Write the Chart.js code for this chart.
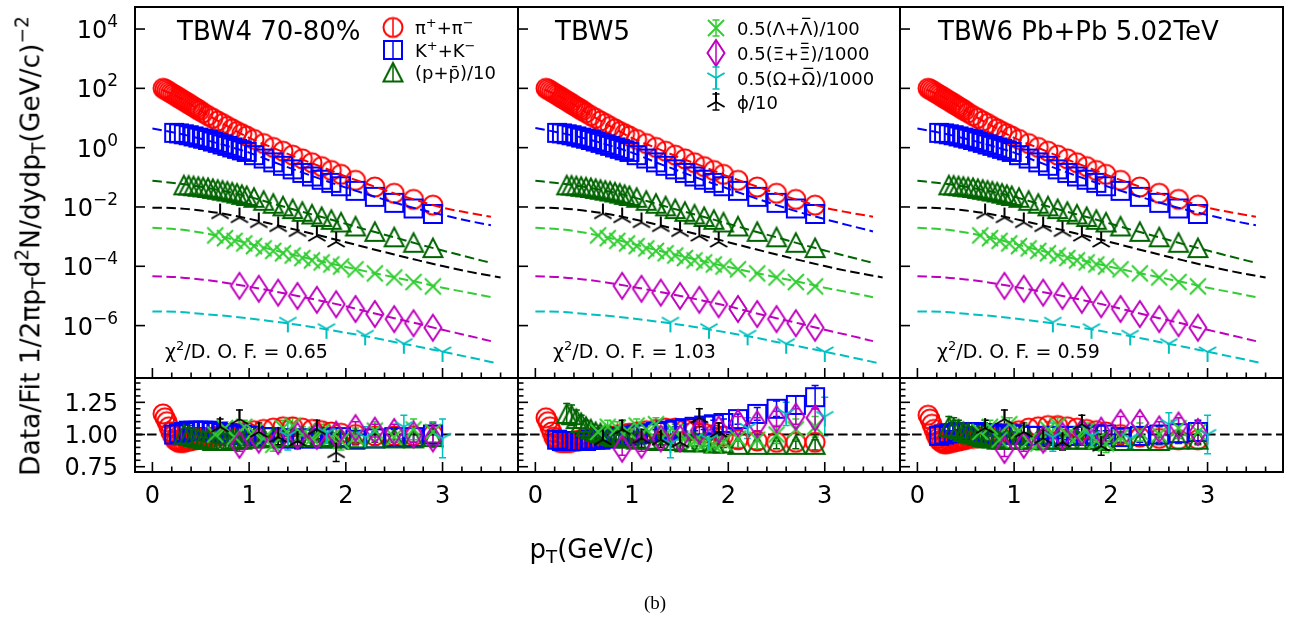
<!DOCTYPE html>
<html>
<head>
<meta charset="utf-8">
<script src="https://cdn.jsdelivr.net/npm/chart.js@4.4.0/dist/chart.umd.min.js"></script>
<style>
  html, body { margin: 0; padding: 0; background: #fff; }
  #wrap { position: relative; width: 1301px; height: 618px; overflow: hidden; font-family: 'DejaVu Sans', sans-serif; color: #000; }
  #wrap canvas { position: absolute; left: 0; top: 0; }
  .anchor { position: absolute; width: 0; height: 0; }
  .lab { position: absolute; white-space: nowrap; line-height: 1; transform: translate(-50%, -50%); }
  .rot { transform: translate(-50%, -50%) rotate(-90deg); }
  .sb { font-size: 0.7em; vertical-align: -0.3em; }
  .sp { font-size: 0.7em; vertical-align: 0.6em; }
</style>
</head>
<body>
<div id="wrap">
  <canvas id="t0" width="1301" height="618"></canvas>
  <canvas id="t1" width="1301" height="618"></canvas>
  <canvas id="t2" width="1301" height="618"></canvas>
  <canvas id="r0" width="1301" height="618"></canvas>
  <canvas id="r1" width="1301" height="618"></canvas>
  <canvas id="r2" width="1301" height="618"></canvas>
  <div class="anchor" style="left:31px; top:246px;">
    <div class="lab rot" style="font-size:26.5px;">Data/Fit 1/2πp<span class="sb">T</span>d<span class="sp">2</span>N/dydp<span class="sb">T</span>(GeV/c)<span class="sp">−2</span></div>
  </div>
  <div class="anchor" style="left:592px; top:551px;">
    <div class="lab" style="font-size:26px;">p<span class="sb">T</span>(GeV/c)</div>
  </div>
  <div class="anchor" style="left:655px; top:602px;">
    <div class="lab" style="font-size:19px; font-family:'Liberation Serif', serif;">(b)</div>
  </div>
</div>
<script>
// ─── Spectra (same data in the three panels) ────────────────────────────────
const piPt = [0.11,0.13,0.15,0.17,0.19,0.21,0.23,0.25,0.27,0.29,0.31,0.33,0.35,0.37,0.39,0.41,0.43,0.45,0.47,0.49,
              0.525,0.575,0.625,0.675,0.725,0.775,0.825,0.875,0.925,0.975,
              1.05,1.15,1.25,1.35,1.45,1.55,1.65,1.75,1.85,1.95, 2.1,2.3,2.5,2.7,2.9];
const piY  = [100,93.3,85.1,77.6,70.8,64.6,58.9,53.7,49.0,44.7,40.7,37.2,33.9,30.9,28.2,25.7,23.4,21.4,19.5,17.8,
              15.1,12.0,9.8,7.9,6.5,5.2,4.3,3.5,2.95,2.45,
              1.9,1.38,1.02,0.76,0.56,0.42,0.31,0.23,0.17,0.126, 0.079,0.047,0.029,0.018,0.0115];

const kPt = [0.225,0.275,0.325,0.375,0.425,0.475,0.525,0.575,0.625,0.675,0.725,0.775,0.825,0.875,0.925,0.975,
             1.05,1.15,1.25,1.35,1.45,1.55,1.65,1.75,1.85,1.95, 2.1,2.3,2.5,2.7,2.9];
const kY  = [3.16,3.02,2.82,2.63,2.40,2.19,2.0,1.82,1.62,1.45,1.29,1.15,1.02,0.91,0.81,0.72,
             0.56,0.43,0.32,0.245,0.186,0.141,0.107,0.083,0.065,0.050, 0.035,0.022,0.0138,0.0089,0.0058];

const pPt = [0.325,0.375,0.425,0.475,0.525,0.575,0.625,0.675,0.725,0.775,0.825,0.875,0.925,0.975,
             1.05,1.15,1.25,1.35,1.45,1.55,1.65,1.75,1.85,1.95, 2.1,2.3,2.5,2.7,2.9];
const pY  = [0.0537,0.0525,0.050,0.0479,0.0457,0.0437,0.0407,0.038,0.0355,0.0331,0.0309,0.0282,0.0257,0.0234,
             0.0204,0.0162,0.0129,0.0105,0.0085,0.0069,0.0056,0.0046,0.0037,0.0030, 0.0022,0.00145,0.00095,0.00062,0.00041];

const lamPt = [0.65,0.75,0.85,0.95,1.05,1.15,1.25,1.35,1.45,1.55,1.65,1.75,1.85,1.95,2.1,2.3,2.5,2.7,2.9];
const lamY  = [1.10e-3,8.9e-4,7.2e-4,5.9e-4,4.8e-4,4.0e-4,3.3e-4,2.75e-4,2.3e-4,1.9e-4,1.58e-4,1.35e-4,1.15e-4,9.8e-5,
               7.9e-5,5.75e-5,4.2e-5,2.95e-5,2.1e-5];

const xiPt = [0.9,1.1,1.3,1.5,1.7,1.9,2.1,2.3,2.5,2.7,2.9];
const xiY  = [2.19e-5,1.74e-5,1.29e-5,1.0e-5,7.4e-6,5.25e-6,3.63e-6,2.45e-6,1.66e-6,1.2e-6,8.5e-7];

const omPt = [1.4,1.8,2.2,2.6,3.0];
const omY  = [1.29e-6,7.8e-7,4.7e-7,2.45e-7,1.29e-7];

const phiPt = [0.7,0.9,1.1,1.3,1.5,1.7,1.9];
const phiY  = [0.0060,0.0044,0.0030,0.0022,0.0015,0.00105,0.00066];

// ─── Fits (dashed) ──────────────────────────────────────────────────────────
const fitPt    = [0,0.25,0.5,0.75,1,1.25,1.5,1.75,2,2.25,2.5,2.75,3,3.25,3.5];
const piFitPt  = [0.1,0.25,0.5,0.75,1,1.25,1.5,1.75,2,2.25,2.5,2.75,3,3.25,3.5];
const phiFitPt = [0,0.25,0.5,0.75,1,1.25,1.5,1.75,2,2.25,2.5,2.75,3,3.25,3.6];
const omFitPt  = [0,0.25,0.5,0.75,1,1.25,1.5,1.75,2,2.25,2.5,2.75,3,3.25,3.55];
const piFit  = [89,55,17.4,5.9,2.14,0.98,0.457,0.224,0.107,0.055,0.0288,0.0162,0.0095,0.0065,0.0047];
const kFit   = [4.4,3.1,2.0,1.2,0.68,0.33,0.166,0.085,0.045,0.025,0.0141,0.0085,0.0054,0.0035,0.0024];
const kFitB  = [4.6,3.2,2.1,1.24,0.68,0.32,0.158,0.079,0.041,0.0214,0.0115,0.0065,0.0039,0.0024,0.0015];
const pFit   = [0.076,0.063,0.048,0.034,0.022,0.0129,0.0076,0.0046,0.0027,0.00158,0.00095,0.00056,0.00034,0.00021,0.00013];
const lamFit = [0.0020,0.00178,0.00138,0.00093,0.00058,0.000355,0.000224,0.000145,0.000095,0.000063,0.0000427,0.0000288,0.000019,0.0000132,0.0000091];
const xiFit  = [4.6e-5,4.3e-5,3.6e-5,2.8e-5,2.04e-5,1.45e-5,1.0e-5,6.8e-6,4.5e-6,2.8e-6,1.78e-6,1.15e-6,7.2e-7,4.7e-7,3.0e-7];
const phiFit = [0.0095,0.0091,0.0076,0.0058,0.0040,0.0026,0.00166,0.00105,0.00065,0.0004,0.00025,0.000158,0.000102,0.000068,0.000042];
const omFit  = [3.0e-6,2.9e-6,2.5e-6,2.14e-6,1.74e-6,1.38e-6,1.07e-6,7.9e-7,5.75e-7,4.1e-7,2.8e-7,1.95e-7,1.32e-7,8.9e-8,5.5e-8];

// ─── Data/Fit, one row per panel ────────────────────────────────────────────
const piR = [
  [1.16,1.13,1.10,1.06,1.02,0.99,0.96,0.95,0.94,0.94,0.94,0.94,0.95,0.95,0.95,0.96,0.96,0.96,0.97,0.97, 0.97,0.98,0.98,0.99,0.99,1.0,1.0,1.01,1.01,1.02, 1.03,1.04,1.05,1.06,1.06,1.05,1.04,1.03,1.02,1.01, 1.0,0.99,0.99,0.99,1.0],
  [1.13,1.10,1.06,1.02,0.98,0.96,0.95,0.94,0.94,0.94,0.94,0.94,0.94,0.94,0.95,0.95,0.95,0.95,0.96,0.96, 0.96,0.97,0.97,0.98,0.98,0.99,0.99,1.0,1.0,1.01, 1.02,1.03,1.04,1.05,1.05,1.04,1.03,1.01,1.0,0.99, 0.96,0.95,0.94,0.94,0.94],
  [1.15,1.12,1.08,1.04,1.0,0.97,0.95,0.94,0.93,0.93,0.93,0.94,0.94,0.94,0.95,0.95,0.95,0.96,0.96,0.96, 0.97,0.97,0.98,0.98,0.99,0.99,1.0,1.0,1.01,1.02, 1.03,1.05,1.06,1.07,1.07,1.06,1.05,1.04,1.03,1.02, 1.0,0.98,0.97,0.96,0.96],
];
const kR = [
  [1.0,1.01,1.02,1.03,1.03,1.03,1.03,1.03,1.02,1.02,1.01,1.01,1.0,1.0,1.0,0.99, 0.99,0.98,0.98,0.97,0.97,0.97,0.97,0.97,0.98,0.98, 0.96,0.97,0.98,0.98,1.0],
  [0.96,0.95,0.95,0.95,0.95,0.95,0.95,0.96,0.96,0.96,0.97,0.97,0.98,0.98,0.99,0.99, 1.0,1.01,1.02,1.03,1.04,1.05,1.06,1.07,1.08,1.09, 1.12,1.16,1.2,1.23,1.29],
  [0.99,1.0,1.01,1.01,1.02,1.02,1.02,1.02,1.02,1.01,1.01,1.01,1.0,1.0,1.0,1.0, 1.0,0.99,0.99,0.99,0.99,0.99,0.99,0.99,1.0,1.0, 0.98,0.99,1.0,1.01,1.02],
];
const pR = [
  [1.0,0.99,0.98,0.97,0.96,0.96,0.95,0.95,0.95,0.95,0.96,0.96,0.96,0.97, 0.97,0.97,0.98,0.98,0.98,0.98,0.98,0.98,0.97,0.97, 0.97,0.97,0.97,0.97,0.98],
  [1.16,1.15,1.12,1.09,1.06,1.04,1.02,1.01,1.0,0.99,0.98,0.98,0.97,0.97, 0.96,0.96,0.95,0.95,0.95,0.94,0.94,0.94,0.93,0.93, 0.92,0.92,0.92,0.92,0.92],
  [1.06,1.05,1.04,1.02,1.01,1.0,0.99,0.98,0.97,0.97,0.96,0.96,0.96,0.96, 0.96,0.96,0.96,0.96,0.96,0.96,0.96,0.96,0.96,0.95, 0.95,0.95,0.95,0.96,0.96],
];
const lamR = [
  [1.0,1.05,0.98,1.06,1.02,0.97,0.92,1.05,1.07,1.0,0.97,1.02,0.98,0.95,0.98,1.03,0.98,1.04,1.02],
  [1.02,1.06,1.05,1.03,1.07,1.04,1.08,1.0,1.02,0.97,0.95,0.93,0.92,0.94,0.97,0.96,1.0,1.04,1.06],
  [1.02,1.06,0.96,1.08,1.03,0.95,0.93,1.04,1.07,1.0,0.98,1.03,0.95,0.93,0.98,1.02,1.0,1.05,1.02],
];
const xiR = [
  [0.92,0.96,0.95,0.99,0.99,1.0,1.05,1.03,1.02,1.0,0.97],
  [0.89,0.92,0.97,0.97,1.03,1.04,1.09,1.08,1.12,1.14,1.13],
  [0.88,0.92,0.96,0.99,1.02,1.03,1.09,1.09,1.04,1.07,1.02],
];
const omR  = [[0.99,1.01,0.98,1.06,0.97], [0.93,0.96,1.05,1.16,1.14], [0.98,0.99,0.97,1.08,1.0]];
const phiR = [[1.06,1.12,1.02,0.98,0.95,1.04,0.86], [0.96,1.04,0.97,0.96,0.94,1.13,1.02], [1.05,1.12,1.02,0.97,0.94,1.08,0.91]];

const kErr   = [0.02,0.02,0.02,0.02,0.02,0.02,0.02,0.02,0.02,0.02,0.02,0.02,0.02,0.02,0.02,0.02,0.02,0.02,0.02,0.02,0.02,0.03,0.03,0.03,0.03,0.03,0.04,0.05,0.06,0.07,0.09];
const pErr   = [0.08,0.08,0.07,0.06,0.05,0.04,0.03,0.03,0.03,0.03,0.03,0.03,0.03,0.03,0.03,0.03,0.03,0.03,0.03,0.03,0.03,0.03,0.03,0.03,0.03,0.03,0.03,0.03,0.04];
const lamErr = [0.05,0.05,0.05,0.05,0.05,0.05,0.05,0.06,0.06,0.06,0.06,0.06,0.06,0.07,0.07,0.07,0.07,0.08,0.08];
const xiErr  = [0.05,0.05,0.05,0.05,0.05,0.05,0.05,0.05,0.06,0.06,0.07];
const omErr  = [0.11,0.08,0.08,0.09,0.15];
const phiErr = [0.06,0.07,0.07,0.06,0.06,0.07,0.07];
const refX = [-0.2, 3.8];
const refY = [1, 1];

// ─── Axes ───────────────────────────────────────────────────────────────────
const xMajorTicks = [0, 1, 2, 3];
const xMinorTicks = [0.2,0.4,0.6,0.8,1.2,1.4,1.6,1.8,2.2,2.4,2.6,2.8,3.2,3.4,3.6];
const yTopTicks   = [1e4, 1e2, 1, 1e-2, 1e-4, 1e-6];
const yTopExp     = ['4', '2', '0', '−2', '−4', '−6'];
const rMajorTicks = [0.75, 1.0, 1.25];
const rMajorLabels = ['0.75', '1.00', '1.25'];
const rMinorTicks = [0.8,0.85,0.9,0.95,1.05,1.1,1.15,1.2,1.3,1.35,1.4];

const titles  = ['TBW4 70-80%', 'TBW5', 'TBW6 Pb+Pb 5.02TeV'];
const chiVals = ['0.65', '1.03', '0.59'];

// panel geometry (page pixels)
const colL = [135, 518, 900], colR = [518, 900, 1283];
const TOP = 2, MID = 378, BOT = 472, W = 1301, H = 618;
const FONT = '"DejaVu Sans", sans-serif';
const TICK_FONT = 24;

const C = { pi: '#ff0000', k: '#0000ff', p: '#006400', lam: '#32cd32', xi: '#bf00bf', om: '#00bfbf', phi: '#000000' };

// ─── Marker glyphs ──────────────────────────────────────────────────────────
function marker(kind, color) {
    const c = document.createElement('canvas');
    const w = 28, h = kind === 'thinDiamond' ? 32 : 28;
    c.width = w; c.height = h;
    const g = c.getContext('2d');
    g.strokeStyle = color; g.lineWidth = 2;
    g.translate(w / 2, h / 2);
    g.beginPath();
    switch (kind) {
        case 'circle':      g.arc(0, 0, 9.5, 0, Math.PI * 2); break;
        case 'square':      g.rect(-9, -9, 18, 18); break;
        case 'triangle':    g.moveTo(0, -9.5); g.lineTo(9.5, 9); g.lineTo(-9.5, 9); g.closePath(); break;
        case 'x':           g.moveTo(-8, -8); g.lineTo(8, 8); g.moveTo(8, -8); g.lineTo(-8, 8); break;
        case 'thinDiamond': g.moveTo(0, -13); g.lineTo(8.5, 0); g.lineTo(0, 13); g.lineTo(-8.5, 0); g.closePath(); break;
        case 'triDown':     g.moveTo(0, 0); g.lineTo(0, 10); g.moveTo(0, 0); g.lineTo(-8.6, -5); g.moveTo(0, 0); g.lineTo(8.6, -5); break;
        case 'triUp':       g.moveTo(0, 0); g.lineTo(0, -10); g.moveTo(0, 0); g.lineTo(-8.6, 5); g.moveTo(0, 0); g.lineTo(8.6, 5); break;
    }
    g.stroke();
    return c;
}
const M = {
    pi:  marker('circle', C.pi),      k:  marker('square', C.k),      p:   marker('triangle', C.p),
    lam: marker('x', C.lam),          xi: marker('thinDiamond', C.xi), om: marker('triDown', C.om),
    phi: marker('triUp', C.phi),
};

// ─── Helpers ────────────────────────────────────────────────────────────────
const pts = (xs, ys) => xs.map((x, i) => ({ x, y: ys[i] }));

function markerSet(xs, ys, key, order, errs) {
    return { data: pts(xs, ys), pointStyle: M[key], pointRadius: 6, pointHoverRadius: 6,
             showLine: false, borderColor: C[key], backgroundColor: 'transparent', order, clip: 0, errs };
}
function fitSet(xs, ys, color) {
    return { data: pts(xs, ys), showLine: true, pointRadius: 0, borderColor: color, borderWidth: 2,
             borderDash: [9.5, 4.5], cubicInterpolationMode: 'monotone', order: 0, clip: 0 };
}

// parts: [text, size, dy, overbar]
function drawRich(ctx, parts, x, y, align) {
    let w = 0;
    for (const [t, s] of parts) { ctx.font = s + 'px ' + FONT; w += ctx.measureText(t).width; }
    let cx = align === 'right' ? x - w : align === 'center' ? x - w / 2 : x;
    ctx.textAlign = 'left'; ctx.textBaseline = 'alphabetic';
    for (const [t, s, dy, bar] of parts) {
        ctx.font = s + 'px ' + FONT;
        const tw = ctx.measureText(t).width, by = y + (dy || 0);
        ctx.fillText(t, cx, by);
        if (bar) {
            const ly = by - s * 0.73 - 3;
            ctx.save(); ctx.strokeStyle = ctx.fillStyle; ctx.lineWidth = 1.3;
            ctx.beginPath(); ctx.moveTo(cx + 2, ly); ctx.lineTo(cx + tw - 2, ly); ctx.stroke();
            ctx.restore();
        }
        cx += tw;
    }
}

const legendItems = [
    [
        { key: 'pi', err: 9,  caps: false, parts: [['π', 18], ['+', 13, -7], ['+', 18], ['π', 18], ['−', 13, -7]] },
        { key: 'k',  err: 9,  caps: false, parts: [['K', 18], ['+', 13, -7], ['+', 18], ['K', 18], ['−', 13, -7]] },
        { key: 'p',  err: 9,  caps: false, parts: [['(p+p̄)/10', 18]] },
    ],
    [
        { key: 'lam', err: 8,  caps: true,  parts: [['0.5(Λ+', 18], ['Λ', 18, 0, true], [')/100', 18]] },
        { key: 'xi',  err: 11, caps: false, parts: [['0.5(Ξ+', 18], ['Ξ', 18, 0, true], [')/1000', 18]] },
        { key: 'om',  err: 11, caps: true,  parts: [['0.5(Ω+', 18], ['Ω', 18, 0, true], [')/1000', 18]] },
        { key: 'phi', err: 8,  caps: true,  parts: [['ϕ/10', 18]] },
    ],
];
const legendPos = [ { mx: 393, tx: 415, rows: [27.5, 50, 72.5] },
                    { mx: 716, tx: 737, rows: [28, 53, 78, 102] } ];
const titleX = [177, 555, 938];
const chiX   = [165, 553, 937];

// ─── Decoration plugin (frame, inward ticks, labels, legend) ────────────────
function deco(col, kind) {
    return {
        id: 'deco',
        beforeDatasetsDraw(chart) {
            if (kind !== 'ratio') return;
            const { ctx, chartArea: a } = chart;
            const xs = chart.scales.x, ys = chart.scales.y;
            ctx.save();
            ctx.beginPath(); ctx.rect(a.left, a.top, a.right - a.left, a.bottom - a.top); ctx.clip();
            chart.data.datasets.forEach(ds => {
                if (!ds.errs) return;
                ctx.strokeStyle = ds.borderColor; ctx.lineWidth = 1.5;
                ds.data.forEach((p, i) => {
                    const e = ds.errs[i], px = xs.getPixelForValue(p.x);
                    const y1 = ys.getPixelForValue(p.y - e), y2 = ys.getPixelForValue(p.y + e);
                    ctx.beginPath();
                    ctx.moveTo(px, y1); ctx.lineTo(px, y2);
                    ctx.moveTo(px - 3.5, y1); ctx.lineTo(px + 3.5, y1);
                    ctx.moveTo(px - 3.5, y2); ctx.lineTo(px + 3.5, y2);
                    ctx.stroke();
                });
            });
            ctx.restore();
        },
        afterDraw(chart) {
            const { ctx, chartArea: a } = chart;
            const xs = chart.scales.x, ys = chart.scales.y;
            ctx.save();
            ctx.strokeStyle = '#000'; ctx.fillStyle = '#000'; ctx.lineWidth = 1.6;
            const vtick = (v, len) => { const px = xs.getPixelForValue(v); ctx.beginPath(); ctx.moveTo(px, a.bottom); ctx.lineTo(px, a.bottom - len); ctx.stroke(); };
            const htick = (v, len) => { const py = ys.getPixelForValue(v); ctx.beginPath(); ctx.moveTo(a.left, py); ctx.lineTo(a.left + len, py); ctx.stroke(); };
            xMinorTicks.forEach(v => vtick(v, 5.5));
            xMajorTicks.forEach(v => vtick(v, 10));
            if (kind === 'top') {
                yTopTicks.forEach(v => htick(v, 10));
            } else {
                rMinorTicks.forEach(v => htick(v, 5.5));
                rMajorTicks.forEach(v => htick(v, 10));
            }
            ctx.lineWidth = 2;
            ctx.strokeRect(a.left, a.top, a.right - a.left, a.bottom - a.top);

            // tick labels
            if (col === 0 && kind === 'top') {
                yTopTicks.forEach((v, i) => {
                    const py = ys.getPixelForValue(v);
                    drawRich(ctx, [['10', TICK_FONT], [yTopExp[i], 17, -11]], 118, py + 9, 'right');
                });
            }
            if (col === 0 && kind === 'ratio') {
                rMajorTicks.forEach((v, i) => drawRich(ctx, [[rMajorLabels[i], TICK_FONT]], 118, ys.getPixelForValue(v) + 8.5, 'right'));
            }
            if (kind === 'ratio') {
                xMajorTicks.forEach(v => drawRich(ctx, [[String(v), TICK_FONT]], xs.getPixelForValue(v), 503, 'center'));
            }

            if (kind === 'top') {
                drawRich(ctx, [[titles[col], 26]], titleX[col], 40, 'left');
                drawRich(ctx, [['χ', 19], ['2', 13, -8], ['/D. O. F. = ' + chiVals[col], 19]], chiX[col], 358, 'left');
                if (legendItems[col]) {
                    const lp = legendPos[col];
                    legendItems[col].forEach((it, i) => {
                        const my = lp.rows[i], img = M[it.key];
                        ctx.strokeStyle = C[it.key]; ctx.lineWidth = 1.5;
                        ctx.beginPath(); ctx.moveTo(lp.mx, my - it.err); ctx.lineTo(lp.mx, my + it.err);
                        if (it.caps) {
                            ctx.moveTo(lp.mx - 3.5, my - it.err); ctx.lineTo(lp.mx + 3.5, my - it.err);
                            ctx.moveTo(lp.mx - 3.5, my + it.err); ctx.lineTo(lp.mx + 3.5, my + it.err);
                        }
                        ctx.stroke();
                        ctx.drawImage(img, lp.mx - img.width / 2, my - img.height / 2);
                        ctx.fillStyle = '#000';
                        drawRich(ctx, it.parts, lp.tx, my + 6.5, 'left');
                    });
                }
            }
            ctx.restore();
        },
    };
}

function baseOptions(col, kind) {
    const y = kind === 'top'
        ? { type: 'logarithmic', min: Math.pow(10, -7.767), max: Math.pow(10, 4.743), display: false }
        : { type: 'linear', min: 0.709, max: 1.439, display: false };
    return {
        responsive: false,
        animation: false,
        events: [],
        layout: { padding: { left: colL[col], right: W - colR[col],
                             top: kind === 'top' ? TOP : MID, bottom: kind === 'top' ? H - MID : H - BOT } },
        plugins: { legend: { display: false }, tooltip: { enabled: false }, title: { display: false } },
        scales: { x: { type: 'linear', min: -0.18, max: 3.78, display: false }, y },
    };
}

for (let col = 0; col < 3; col++) {
    new Chart(document.getElementById('t' + col), {
        type: 'scatter',
        data: { datasets: [
            fitSet(piFitPt, piFit, C.pi),
            fitSet(fitPt, col === 1 ? kFitB : kFit, C.k),
            fitSet(fitPt, pFit, C.p),
            fitSet(phiFitPt, phiFit, C.phi),
            fitSet(fitPt, lamFit, C.lam),
            fitSet(fitPt, xiFit, C.xi),
            fitSet(omFitPt, omFit, C.om),
            markerSet(piPt, piY, 'pi', 7),
            markerSet(kPt, kY, 'k', 6),
            markerSet(pPt, pY, 'p', 5),
            markerSet(lamPt, lamY, 'lam', 4),
            markerSet(xiPt, xiY, 'xi', 3),
            markerSet(omPt, omY, 'om', 2),
            markerSet(phiPt, phiY, 'phi', 1),
        ] },
        options: baseOptions(col, 'top'),
        plugins: [deco(col, 'top')],
    });

    const ref = fitSet(refX, refY, '#000');
    ref.order = 20; ref.cubicInterpolationMode = 'default'; ref.tension = 0;
    new Chart(document.getElementById('r' + col), {
        type: 'scatter',
        data: { datasets: [
            ref,
            markerSet(piPt, piR[col], 'pi', 7),
            markerSet(kPt, kR[col], 'k', 6, kErr),
            markerSet(pPt, pR[col], 'p', 5, pErr),
            markerSet(lamPt, lamR[col], 'lam', 4, lamErr),
            markerSet(xiPt, xiR[col], 'xi', 3, xiErr),
            markerSet(omPt, omR[col], 'om', 2, omErr),
            markerSet(phiPt, phiR[col], 'phi', 1, phiErr),
        ] },
        options: baseOptions(col, 'ratio'),
        plugins: [deco(col, 'ratio')],
    });
}
</script>
</body>
</html>
